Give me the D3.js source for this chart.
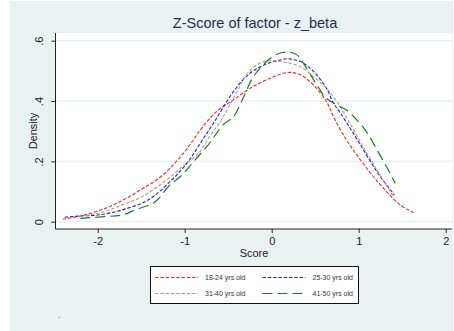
<!DOCTYPE html>
<html>
<head>
<meta charset="utf-8">
<script src="https://cdn.jsdelivr.net/npm/d3@7"></script>
<style>
  html, body { margin: 0; padding: 0; background: #fff; }
  svg { display: block; font-family: "Liberation Sans", Arial, sans-serif; }
</style>
</head>
<body>
<div id="chart"></div>
<script>
// Kernel density estimates of z_beta by age group
const groups = ["18-24 yrs old", "25-30 yrs old", "31-40 yrs old", "41-50 yrs old"];

const density1824 = [
  [-2.40, 0.008], [-2.20, 0.019], [-2.00, 0.035], [-1.78, 0.061], [-1.51, 0.105],
  [-1.25, 0.155], [-1.00, 0.232], [-0.90, 0.271], [-0.80, 0.312], [-0.63, 0.366],
  [-0.44, 0.404], [-0.25, 0.442], [-0.06, 0.470], [0.10, 0.489], [0.21, 0.495],
  [0.33, 0.487], [0.48, 0.453], [0.63, 0.398], [0.71, 0.348], [0.86, 0.271],
  [1.02, 0.205], [1.17, 0.149], [1.32, 0.100], [1.48, 0.055], [1.63, 0.030]
];
const density2530 = [
  [-2.38, 0.015], [-2.20, 0.019], [-2.00, 0.022], [-1.72, 0.039], [-1.42, 0.072],
  [-1.15, 0.138], [-0.96, 0.199], [-0.81, 0.265], [-0.65, 0.335],
  [-0.44, 0.431], [-0.25, 0.492], [-0.06, 0.523], [0.10, 0.536], [0.19, 0.540],
  [0.33, 0.531], [0.48, 0.498], [0.63, 0.442], [0.71, 0.393], [0.79, 0.360],
  [0.94, 0.293], [1.09, 0.221], [1.25, 0.149], [1.41, 0.089]
];
const density3140 = [
  [-2.20, 0.018], [-1.99, 0.028], [-1.72, 0.055], [-1.49, 0.083], [-1.26, 0.127],
  [-1.03, 0.182], [-0.84, 0.227], [-0.72, 0.280], [-0.59, 0.332], [-0.44, 0.409],
  [-0.29, 0.487], [-0.17, 0.520], [-0.06, 0.533], [0.10, 0.531], [0.21, 0.525],
  [0.33, 0.514], [0.48, 0.481], [0.63, 0.442], [0.75, 0.398], [0.90, 0.326],
  [1.05, 0.249], [1.21, 0.171], [1.40, 0.083]
];
const density4150 = [
  [-2.20, 0.011], [-1.92, 0.017], [-1.72, 0.022], [-1.57, 0.039], [-1.34, 0.066],
  [-1.19, 0.116], [-1.03, 0.155], [-0.88, 0.205], [-0.72, 0.258], [-0.56, 0.321],
  [-0.44, 0.348], [-0.33, 0.409], [-0.21, 0.481], [-0.06, 0.531], [0.06, 0.555],
  [0.17, 0.562], [0.29, 0.553], [0.40, 0.509], [0.52, 0.453], [0.63, 0.409],
  [0.75, 0.387], [0.86, 0.370], [0.98, 0.337], [1.09, 0.298], [1.21, 0.238],
  [1.32, 0.182], [1.42, 0.127]
];

const xTicks = [-2, -1, 0, 1, 2];
const yTicks = [0, 0.2, 0.4, 0.6];
const yTickLabels = ["0", ".2", ".4", ".6"];

const series = [
  { name: groups[0], values: density1824, color: "#ff2020", dash: "3.5,1.8", width: 1.1 },
  { name: groups[1], values: density2530, color: "#1a1aff", dash: "3.5,1.8", width: 1.1 },
  { name: groups[2], values: density3140, color: "#b29a74", dash: "3.5,1.8", width: 1.1 },
  { name: groups[3], values: density4150, color: "#1d7f1d", dash: "10,5", width: 1.2 }
];

const W = 454, H = 331;
const svg = d3.select("#chart").append("svg")
  .attr("width", W).attr("height", H);

// graph region background
svg.append("rect")
  .attr("x", 10).attr("y", 1).attr("width", 443).attr("height", 330)
  .attr("fill", "#eaf1f3");

const x = d3.scaleLinear().domain([-2, 2]).range([97.7, 445.7]);
const y = d3.scaleLinear().domain([0, 0.6]).range([221.7, 40.7]);

const plot = { left: 55.5, top: 33, right: 452, bottom: 229 };

svg.append("rect")
  .attr("x", plot.left).attr("y", plot.top)
  .attr("width", plot.right - plot.left).attr("height", plot.bottom - plot.top)
  .attr("fill", "#fff");

// horizontal grid lines
svg.append("g").selectAll("line")
  .data(yTicks)
  .join("line")
  .attr("x1", plot.left).attr("x2", plot.right)
  .attr("y1", d => y(d)).attr("y2", d => y(d))
  .attr("stroke", "#e6eff1").attr("stroke-width", 1.2);

// y axis
const yAxis = svg.append("g")
  .attr("transform", `translate(${plot.left},0)`)
  .call(d3.axisLeft(y).tickValues(yTicks).tickSize(4).tickFormat((d, i) => yTickLabels[i]));
yAxis.select(".domain").attr("d", `M0,${plot.top}V${plot.bottom}`).attr("stroke", "#222");
yAxis.selectAll(".tick line").attr("stroke", "#222");
yAxis.selectAll(".tick text")
  .attr("x", 0).attr("dy", null)
  .attr("transform", "translate(-13,0) rotate(-90)")
  .attr("text-anchor", "middle")
  .attr("font-size", 11).attr("fill", "#222")
  .attr("font-family", "Liberation Sans, Arial, sans-serif");

// x axis (plain hyphen for negatives)
const xAxis = svg.append("g")
  .attr("transform", `translate(0,${plot.bottom})`)
  .call(d3.axisBottom(x).tickValues(xTicks).tickSize(4).tickFormat(d => String(d)));
xAxis.select(".domain").attr("d", `M${plot.left},0H${plot.right}`).attr("stroke", "#222");
xAxis.selectAll(".tick line").attr("stroke", "#222");
xAxis.selectAll(".tick text")
  .attr("y", 8).attr("font-size", 11).attr("fill", "#222")
  .attr("font-family", "Liberation Sans, Arial, sans-serif");

// density curves
const line = d3.line()
  .x(d => x(d[0]))
  .y(d => y(d[1]))
  .curve(d3.curveCatmullRom.alpha(0.5));

svg.append("g").selectAll("path")
  .data(series)
  .join("path")
  .attr("d", d => line(d.values))
  .attr("fill", "none")
  .attr("stroke", d => d.color)
  .attr("stroke-width", d => d.width)
  .attr("stroke-dasharray", d => d.dash);

// titles
svg.append("text")
  .attr("x", 255).attr("y", 28)
  .attr("text-anchor", "middle")
  .attr("font-size", 14.5).attr("fill", "#1f2f4f")
  .text("Z-Score of factor - z_beta");

svg.append("text")
  .attr("x", 254).attr("y", 257)
  .attr("text-anchor", "middle")
  .attr("font-size", 11).attr("fill", "#222")
  .text("Score");

svg.append("text")
  .attr("transform", "translate(37,131) rotate(-90)")
  .attr("text-anchor", "middle")
  .attr("font-size", 11).attr("fill", "#222")
  .text("Density");

// legend
const legend = svg.append("g");
legend.append("rect")
  .attr("x", 150.5).attr("y", 266.5).attr("width", 208).attr("height", 37)
  .attr("fill", "#fff").attr("stroke", "#111").attr("stroke-width", 1);

const cols = [155, 262.5];
const rows = [277.5, 293.5];
const items = legend.selectAll("g.item")
  .data(series)
  .join("g")
  .attr("class", "item")
  .attr("transform", (d, i) => `translate(${cols[i % 2]},${rows[Math.floor(i / 2)]})`);

items.append("line")
  .attr("x1", 0).attr("x2", 43).attr("y1", 0).attr("y2", 0)
  .attr("stroke", d => d.color)
  .attr("stroke-width", d => d.width)
  .attr("stroke-dasharray", d => d.dash);

items.append("text")
  .attr("x", 50).attr("y", 2.5)
  .attr("font-size", 7).attr("fill", "#333")
  .text(d => d.name);

// note
svg.append("text")
  .attr("x", 58).attr("y", 318)
  .attr("font-size", 8).attr("fill", "#333")
  .text(".");
</script>
</body>
</html>
